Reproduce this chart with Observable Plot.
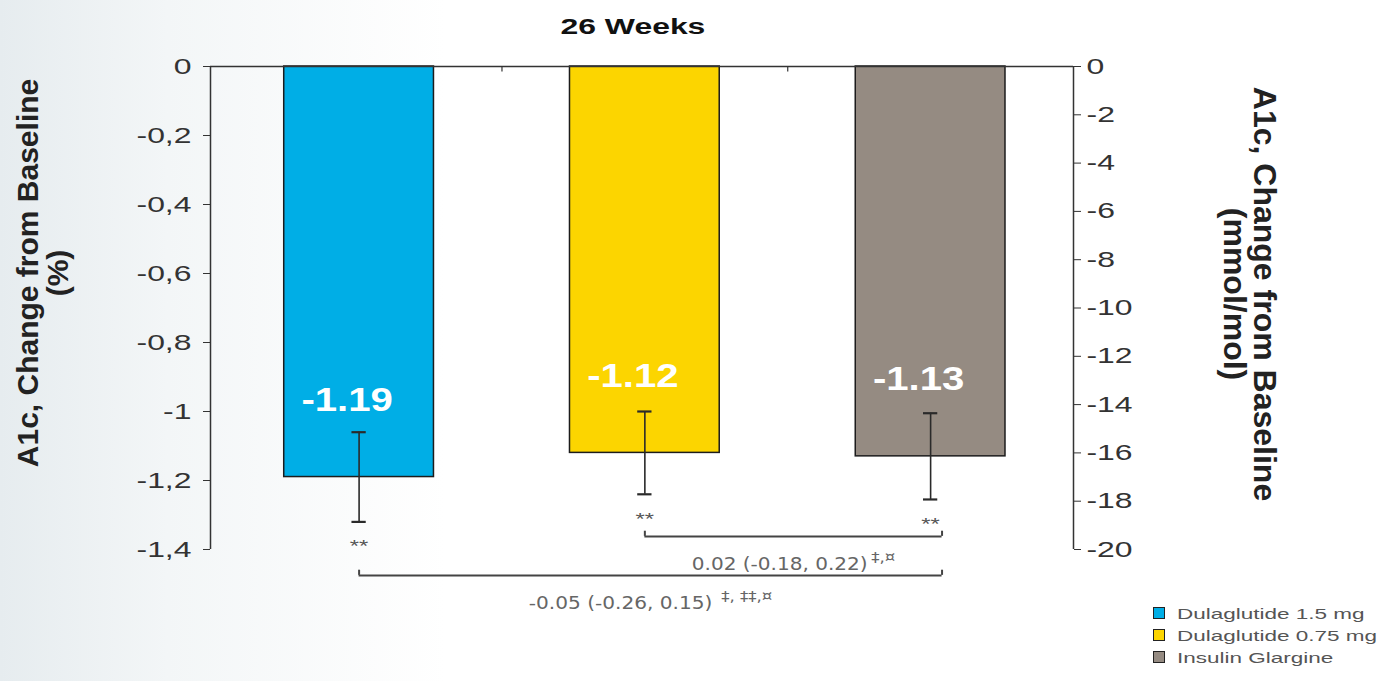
<!DOCTYPE html>
<html>
<head>
<meta charset="utf-8">
<script src="https://cdn.jsdelivr.net/npm/d3@7"></script>
<script src="https://cdn.jsdelivr.net/npm/@observablehq/plot@0.6"></script>
<style>
  html, body { margin: 0; padding: 0; }
  body {
    width: 1393px; height: 681px; overflow: hidden; position: relative;
    background: linear-gradient(90deg, #e6ecef 0%, #f3f6f7 12%, #ffffff 32%);
    font-family: "Liberation Sans", Arial, sans-serif;
  }
  #title {
    position: absolute; left: 0; top: 14px; width: 1266px;
    text-align: center; font-weight: bold; font-size: 22px; color: #111;
  }
  #title span { display: inline-block; transform: scaleX(1.45); }
  #chart { position: absolute; left: 0; top: 50px; }
  #legend { position: absolute; left: 1153px; top: 602px; font-size: 15px; color: #555; }
  #legend .item { display: flex; align-items: center; height: 22px; white-space: nowrap; }
  #legend .sw { width: 10px; height: 10px; border: 1.5px solid #222; margin-right: 12px; flex: none; }
  #legend .lab { display: inline-block; transform: scaleX(1.5); transform-origin: left center; }
</style>
</head>
<body>
<div id="title"><span></span></div>
<div id="chart"></div>
<div id="legend"></div>
<script>
// Chart text
const title = "26 Weeks";
const leftLabel = "A1c, Change from Baseline\n(%)";
const rightLabel = "A1c, Change from Baseline\n(mmol/mol)";

// Treatment groups, change from baseline in A1c (%) and standard error
const groups = ["Dulaglutide 1.5 mg", "Dulaglutide 0.75 mg", "Insulin Glargine"];
const colors = ["#00aee6", "#fcd500", "#958b82"];
const change = [-1.19, -1.12, -1.13];
const stdErr = [0.13, 0.12, 0.125];
const significance = ["**", "**", "**"];

// Axis ticks: % on the left, mmol/mol on the right
const pctTicks = [0, -0.2, -0.4, -0.6, -0.8, -1, -1.2, -1.4];
const mmolTicks = [0, -2, -4, -6, -8, -10, -12, -14, -16, -18, -20];
const mmolPerPct = 20 / 1.4; // the right axis spans the same height as the left one

// Pairwise comparisons (group index from / to), LS mean difference (95% CI) and footnote marks
const compFrom = [1, 0];
const compTo = [2, 2];
const compDiff = ["0.02 (-0.18, 0.22)", "-0.05 (-0.26, 0.15)"];
const compNote = ["\u2021,\u00a4", " \u2021, \u2021\u2021,\u00a4"];

const rows = groups.map((g, i) => ({
  g, i, v: change[i], lo: change[i] - stdErr[i], hi: change[i] + stdErr[i], star: significance[i]
}));
const comps = compDiff.map((diff, k) => ({ k, a: compFrom[k], b: compTo[k] + 0.04, diff, note: compNote[k] }));

const half = 0.262;                       // half bar width, in group units
const level = k => -1.362 - 0.113 * k;    // bracket rows below the bars
const fmtPct = d => String(+d.toFixed(1)).replace(".", ",");
const fmtVal = v => v.toFixed(2);

document.querySelector("#title span").textContent = title;

const chart = Plot.plot({
  width: 1393,
  height: 631,
  marginTop: 16,
  marginBottom: 132,
  marginLeft: 210,
  marginRight: 320,
  style: { fontFamily: "Liberation Sans, Arial, sans-serif", background: "transparent", overflow: "visible", color: "#333" },
  x: { domain: [-0.52, 2.5], axis: null },
  y: { domain: [-1.4, 0], axis: null },
  color: { domain: groups, range: colors },
  marks: [
    // bars
    Plot.rect(rows, { x1: d => d.i - half, x2: d => d.i + half, y1: 0, y2: "v", fill: "g", stroke: "#1c1c1c", strokeWidth: 1.5 }),
    // frame lines: top baseline and the two vertical axes
    Plot.ruleY([0], { stroke: "#333", strokeWidth: 1.5 }),
    Plot.ruleX([-0.52, 2.5], { y1: 0, y2: -1.4, stroke: "#333", strokeWidth: 1.5 }),
    Plot.ruleX([0.5, 1.5], { y1: 0, y2: -0.016, stroke: "#333", strokeWidth: 1.2 }),
    // left and right axes
    Plot.axisY(pctTicks, { anchor: "left", tickSize: 7, tickPadding: 12, tickFormat: fmtPct, fontSize: 22, label: null, stroke: "#333" }),
    Plot.axisY(mmolTicks.map(m => m / mmolPerPct), {
      anchor: "right", tickSize: 7, tickPadding: 6, fontSize: 22, label: null, stroke: "#333",
      tickFormat: d => String(Math.round(d * mmolPerPct))
    }),
    Plot.text([leftLabel], { frameAnchor: "left", text: d => d, rotate: -90, textAnchor: "middle", dx: -167, dy: -35, fontSize: 30, fontWeight: "bold", lineHeight: 1.0, fill: "#222" }),
    Plot.text([rightLabel], { frameAnchor: "right", text: d => d, rotate: 90, textAnchor: "middle", dx: 175, dy: -14, fontSize: 32, fontWeight: "bold", lineHeight: 0.95, fill: "#222" }),
    // error bars with caps
    Plot.ruleX(rows, { x: "i", y1: "lo", y2: "hi", stroke: "#2a2a2a", strokeWidth: 1.6 }),
    Plot.ruleY(rows, { y: "lo", x1: d => d.i - 0.025, x2: d => d.i + 0.025, stroke: "#2a2a2a", strokeWidth: 2.2 }),
    Plot.ruleY(rows, { y: "hi", x1: d => d.i - 0.025, x2: d => d.i + 0.025, stroke: "#2a2a2a", strokeWidth: 2.2 }),
    // value labels inside the bars
    Plot.text(rows, { x: "i", y: "v", text: d => fmtVal(d.v), dx: -12, dy: -77, fill: "white", fontSize: 34, fontWeight: "bold" }),
    // significance marks below the error bars
    Plot.text(rows, { x: "i", y: "lo", text: "star", dy: 25, fontSize: 17, fill: "#555" }),
    // comparison brackets
    Plot.ruleY(comps, { y: d => level(d.k), x1: "a", x2: "b", stroke: "#444", strokeWidth: 2 }),
    Plot.ruleX(comps, { x: "a", y1: d => level(d.k), y2: d => level(d.k) + 0.015, stroke: "#444", strokeWidth: 2 }),
    Plot.ruleX(comps, { x: "b", y1: d => level(d.k), y2: d => level(d.k) + 0.015, stroke: "#444", strokeWidth: 2 }),
    Plot.text(comps, {
      x: d => (d.a + d.b) / 2, y: d => level(d.k), text: "diff", dy: 28,
      fontSize: 17, fill: "#666", fontFamily: "DejaVu Sans"
    })
  ]
});

document.getElementById("chart").appendChild(chart);

// widen glyphs horizontally (the typeface is set wide)
function widen(el, k) {
  const w = el.getComputedTextLength();
  el.setAttribute("textLength", (w * k).toFixed(1));
  el.setAttribute("lengthAdjust", "spacingAndGlyphs");
}

const texts = Array.from(chart.querySelectorAll("text"));
// footnote marks set as superscripts after each comparison
texts.forEach(t => {
  const j = compDiff.indexOf(t.textContent);
  if (j < 0) return;
  const s = document.createElementNS("http://www.w3.org/2000/svg", "tspan");
  s.setAttribute("font-size", "14");
  s.setAttribute("dy", "-0.55em");
  s.setAttribute("dx", "3");
  s.textContent = compNote[j];
  t.appendChild(s);
  widen(t, 1.2);
});
chart.querySelectorAll('g[aria-label="y-axis tick label"] text').forEach(t => widen(t, 1.45));
const valueTexts = change.map(fmtVal);
texts.forEach(t => {
  if (valueTexts.includes(t.textContent)) widen(t, 1.18);
  else if (significance.includes(t.textContent)) widen(t, 1.4);
});

// legend
const legend = document.getElementById("legend");
groups.forEach((g, i) => {
  const item = document.createElement("div");
  item.className = "item";
  const sw = document.createElement("span");
  sw.className = "sw";
  sw.style.background = colors[i];
  const lab = document.createElement("span");
  lab.className = "lab";
  lab.textContent = g;
  item.append(sw, lab);
  legend.appendChild(item);
});
</script>
</body>
</html>
